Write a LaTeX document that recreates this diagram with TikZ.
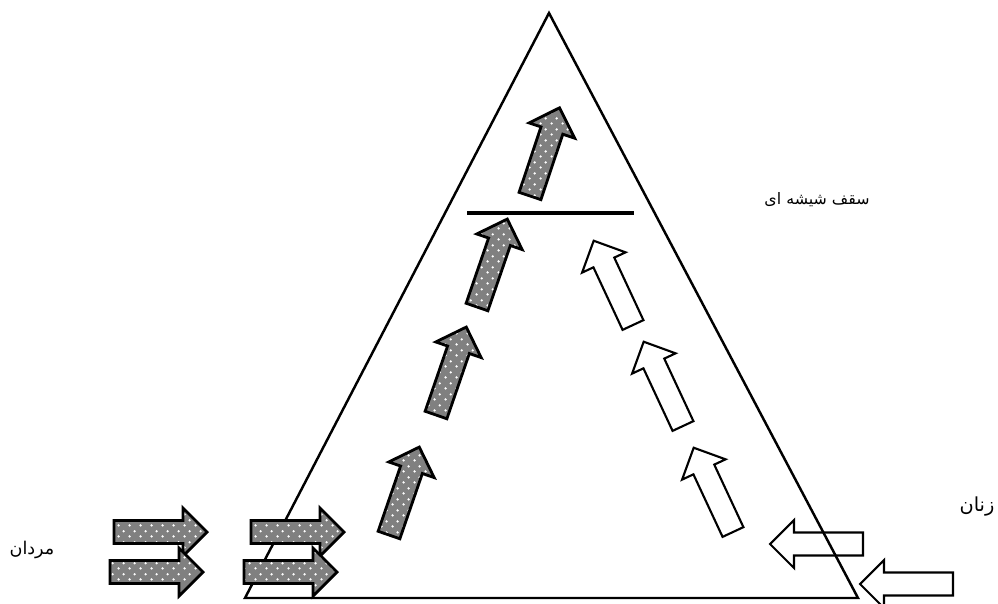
\documentclass[tikz,border=0pt]{standalone}
\usepackage{fontspec}
\newfontfamily\arabicfont[Script=Arabic]{DejaVu Sans}
\TeXXeTstate=1
\usetikzlibrary{patterns}
\pgfdeclarepatternformonly{whitedots}{\pgfpointorigin}{\pgfpoint{6pt}{6pt}}{\pgfpoint{6pt}{6pt}}{%
  \pgfpathcircle{\pgfpoint{1.5pt}{1.5pt}}{0.75pt}%
  \pgfpathcircle{\pgfpoint{4.5pt}{4.5pt}}{0.75pt}%
  \pgfusepath{fill}}
\tikzset{
  pics/blockarrow/.style={code={%
    \path[#1] (0,-11.5) -- (69,-11.5) -- (69,-24) -- (93,0) -- (69,24) -- (69,11.5) -- (0,11.5) -- cycle;}},
  grayarrow/.style={preaction={fill=black!50}, pattern=whitedots, pattern color=white,
    draw=black, line width=1.6pt, line join=miter},
  whitearrow/.style={draw=black, line width=1.2pt, line join=miter},
  frame/.style={draw=black, line width=1.4pt},
  ceiling/.style={draw=black, line width=2.4pt},
  label/.style={font=\arabicfont\fontsize{10}{12}\selectfont, inner sep=0pt}
}
\begin{document}
\begin{tikzpicture}[x=0.02cm,y=-0.02cm]
\useasboundingbox (0,0) rectangle (998,603);
% triangle
\coordinate (apex) at (549,13);
\coordinate (bl) at (245,598);
\coordinate (br) at (858,598);
\draw[frame] (apex) -- (br) -- (bl) -- cycle;
% glass ceiling
\coordinate (gcl) at (467,213);
\coordinate (gcr) at (634,213);
\draw[ceiling] (gcl) -- (gcr);
% men arrows (horizontal)
\pic at (114,532) {blockarrow=grayarrow};
\pic at (110,572) {blockarrow=grayarrow};
\pic at (251,532) {blockarrow=grayarrow};
\pic at (244,572) {blockarrow=grayarrow};
% men arrows (rising)
\pic[rotate=71] at (389,535) {blockarrow=grayarrow};
\pic[rotate=71] at (436,415) {blockarrow=grayarrow};
\pic[rotate=71] at (477,307) {blockarrow=grayarrow};
\pic[rotate=71.5] at (530,196) {blockarrow=grayarrow};
% women arrows (horizontal)
\pic[rotate=180] at (863,544) {blockarrow=whitearrow};
\pic[rotate=180] at (953,584) {blockarrow=whitearrow};
% women arrows (rising)
\pic[rotate=115] at (733,532) {blockarrow=whitearrow};
\pic[rotate=115] at (683,426) {blockarrow=whitearrow};
\pic[rotate=115] at (633,325) {blockarrow=whitearrow};
% labels
\node[label, font=\arabicfont\fontsize{9}{11}\selectfont] (glass) at (817,200) {\beginR سقف شیشه ای\endR};
\node[label] (men) at (32,550) {\beginR مردان\endR};
\node[label, font=\arabicfont\fontsize{11}{13}\selectfont] (women) at (977,507) {\beginR زنان\endR};
\end{tikzpicture}
\end{document}
